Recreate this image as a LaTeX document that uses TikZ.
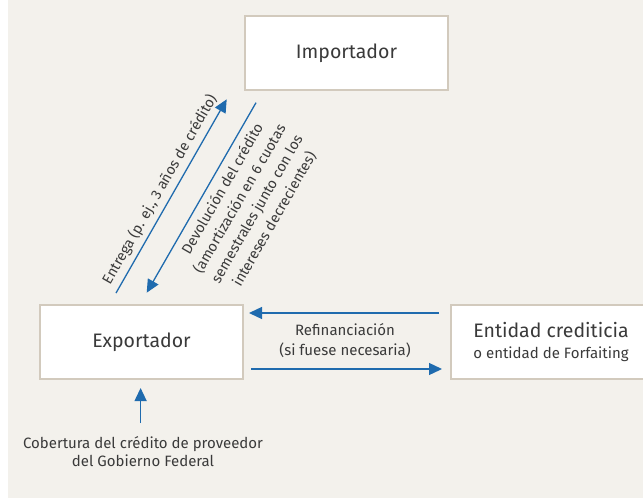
\documentclass[tikz,border=0pt]{standalone}
\usepackage{fontspec}
\setmainfont{Fira Sans}
\usetikzlibrary{arrows.meta}
\definecolor{bg}{HTML}{F3F1EC}
\definecolor{bordc}{HTML}{D2CABD}
\definecolor{arrc}{HTML}{1F6BAE}
\definecolor{txt}{HTML}{3A3A3A}
\begin{document}
\begin{tikzpicture}[x=1pt,y=-1pt,
 box/.style={draw=bordc, line width=1.5pt, fill=white, minimum width=203pt, minimum height=74pt, inner sep=0pt, text=txt, align=center, font=\fontsize{19.5}{22}\selectfont},
 flow/.style={draw=arrc, line width=1.3pt, -{Triangle[length=13pt,width=12pt]}},
 lbl/.style={text=txt, font=\fontsize{15}{18}\selectfont, align=center, inner sep=0pt}]
\useasboundingbox (0,0) rectangle (643,498);
\clip (0,0) rectangle (643,498);
\fill[bg] (8,0) rectangle (643,498);
\node[box] (imp) at (346.5,53) {Importador};
\node[box] (exp) at (141.5,342) {Exportador};
\node[box, minimum width=200pt] (ent) at (551,342) {Entidad crediticia\\[-1pt]{\fontsize{15}{17}\selectfont o entidad de Forfaiting}};
% diagonal arrows
\coordinate (e1) at (116,293);
\coordinate (e2) at (226.7,99.3);
\draw[flow] (e1) -- (e2) node[midway, sloped, above=5pt, lbl, font=\fontsize{14.5}{17}\selectfont] (entrega) {Entrega (p. ej., 3 años de crédito)};
\coordinate (d1) at (256,102.7);
\coordinate (d2) at (146.7,292.7);
\draw[flow] (d1) -- (d2);
\node[lbl, rotate=60, font=\fontsize{14.5}{20}\selectfont] (devol) at (248.5,204) {Devolución del crédito\\(amortización en 6 cuotas\\semestrales junto con los\\intereses decrecientes)};
% horizontal arrows
\coordinate (r1) at (439,313);
\coordinate (r2) at (249,313);
\draw[flow] (r1) -- (r2);
\coordinate (s1) at (251,369);
\coordinate (s2) at (442,369);
\draw[flow] (s1) -- (s2);
\node[lbl, font=\fontsize{15}{20}\selectfont] (refin) at (345,341) {Refinanciación\\(si fuese necesaria)};
% bottom
\coordinate (u1) at (140.6,423);
\coordinate (u2) at (140.6,388);
\draw[flow] (u1) -- (u2);
\node[lbl, font=\fontsize{15}{18}\selectfont] (cob) at (143,452) {Cobertura del crédito de proveedor\\del Gobierno Federal};
\end{tikzpicture}
\end{document}
